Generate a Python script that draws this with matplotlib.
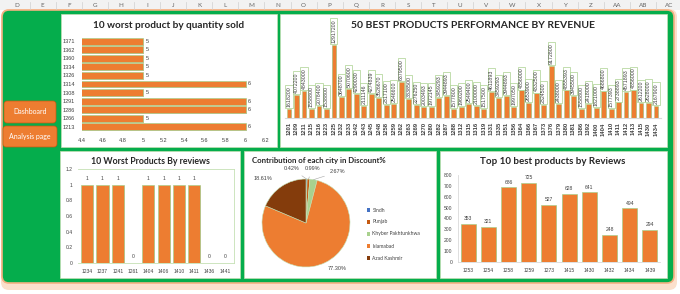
import numpy as np
import matplotlib.pyplot as plt
from matplotlib import patheffects as pe
from matplotlib.patches import FancyBboxPatch, Rectangle, Patch

plt.rcParams['font.family'] = ['Lato', 'DejaVu Sans']

W, H = 680, 294
ORANGE = '#ED7D31'
GREEN = '#05AD4C'
EDGE = '#A9D18E'
TXT = '#404040'
TICKFONT = ['Liberation Sans', 'DejaVu Sans']

# ---- data ----
col_letters = ['D', 'E', 'F', 'G', 'H', 'I', 'J', 'K', 'L', 'M', 'N', 'O', 'P',
               'Q', 'R', 'S', 'T', 'U', 'V', 'W', 'X', 'Y', 'Z', 'AA', 'AB', 'AC']

qty_products = ['1371', '1362', '1360', '1334', '1326', '1314', '1308', '1291', '1286', '1266', '1213']
qty_sold = [5, 5, 5, 5, 5, 6, 5, 6, 6, 5, 6]

rev_products = ['1201', '1209', '1211', '1215', '1216', '1223', '1225', '1232', '1233', '1242',
                '1243', '1245', '1248', '1258', '1259', '1262', '1263', '1269', '1270', '1280',
                '1282', '1287', '1288', '1312', '1315', '1316', '1319', '1331', '1335', '1351',
                '1356', '1364', '1366', '1367', '1373', '1376', '1379', '1380', '1381', '1386',
                '1392', '1400', '1404', '1410', '1411', '1412', '1413', '1415', '1430', '1434']
revenue = [1618200, 4072200, 4843000, 1558800, 2078400, 1538800, 12917200, 3648700, 5070600, 4290030,
           2111146, 4274839, 3526670, 2317100, 2546600, 6379500, 3338500, 2276250, 2003493, 1972145,
           3459293, 3944893, 1577800, 1960200, 2549400, 2100000, 1517500, 4611893, 3459293, 3944893,
           1997050, 4856000, 2653900, 4332500, 2324500, 9172800, 2438000, 4855393, 3945500, 1558800,
           2418000, 1821000, 4686800, 1577393, 2738893, 4571893, 4856000, 2612200, 2628000, 2167900]

worst_rev_products = ['1234', '1237', '1241', '1261', '1404', '1406', '1410', '1411', '1436', '1441']
worst_reviews = [1, 1, 1, 0, 1, 1, 1, 1, 0, 0]

best_rev_products = ['1253', '1254', '1258', '1259', '1273', '1415', '1430', '1432', '1434', '1439']
best_reviews = [353, 321, 686, 725, 527, 628, 641, 248, 494, 294]

cities = ['Sindh', 'Punjab', 'Khyber Pakhtunkhwa', 'Islamabad', 'Azad Kashmir']
discount_share = [0.42, 0.99, 2.67, 77.30, 18.61]
city_colors = ['#4472C4', '#C55A11', '#A9D18E', '#ED7D31', '#843C0C']

fig = plt.figure(figsize=(W / 100, H / 100), dpi=100)
bg = fig.add_axes([0, 0, 1, 1])
bg.set_xlim(0, W)
bg.set_ylim(H, 0)
bg.axis('off')


def px_axes(x0, y0, x1, y1):
    ax = fig.add_axes([x0 / W, 1 - y1 / H, (x1 - x0) / W, (y1 - y0) / H])
    ax.set_facecolor('none')
    return ax


def title(x, y, s, size, ha='center'):
    fig.text(x / W, 1 - y / H, s, ha=ha, va='center', fontsize=size, weight='bold',
             color='#262626', zorder=10)


shadow = [pe.SimplePatchShadow(offset=(0.7, -0.7), shadow_rgbFace='#7f7f7f', alpha=0.4), pe.Normal()]


def style_bars(bars):
    for b in bars:
        b.set_path_effects(shadow)


def tick_font(ax):
    for lab in ax.get_xticklabels() + ax.get_yticklabels():
        lab.set_family(TICKFONT)


# ---- sheet background ----
bg.add_patch(Rectangle((0, 0), W, 10, fc='#F2F2F2', ec='none'))
for i, c in enumerate(col_letters):
    cx = 16.5 + i * 26.1
    bg.text(cx, 5.5, c, ha='center', va='center', fontsize=4.5, color='#666666')
    bg.plot([cx + 13, cx + 13], [1.5, 9], color='#D0D0D0', lw=0.5)

bg.add_patch(FancyBboxPatch((1, 9), 676, 281, boxstyle='round,pad=0,rounding_size=8',
                            fc='#FBE0CC', ec='none'))
bg.add_patch(FancyBboxPatch((2, 10), 672, 273, boxstyle='round,pad=0,rounding_size=7',
                            fc=GREEN, ec='#F4B183', lw=1.2))

for (x0, y0, x1, y1) in [(61, 14, 277, 147), (280, 14, 667, 147),
                         (60, 151, 240, 278), (244, 151, 436, 278), (440, 151, 667, 278)]:
    bg.add_patch(Rectangle((x0, y0), x1 - x0, y1 - y0, fc='white', ec='#C5E0B4', lw=0.5))

# buttons
for (x0, y0, w, h, label) in [(4, 101, 52, 22, 'Dashboard'), (3, 126, 54, 21, 'Analysis page')]:
    bg.add_patch(FancyBboxPatch((x0, y0), w, h, boxstyle='round,pad=0,rounding_size=3',
                                fc=ORANGE, ec='#C55A11', lw=0.5))
    bg.text(x0 + w / 2, y0 + h / 2, label, ha='center', va='center', fontsize=5, color='white')

# ---- 10 worst product by quantity sold ----
ax1 = px_axes(82, 37, 266, 131)
y = np.arange(len(qty_products))
bars = ax1.barh(y, qty_sold, height=0.8, color=ORANGE, edgecolor=EDGE, lw=0.5)
style_bars(bars)
ax1.set_xlim(4.4, 6.2)
ax1.set_ylim(len(qty_products) - 0.5, -0.5)
ax1.set_yticks(y)
ax1.set_yticklabels(qty_products)
xt = np.round(np.arange(4.4, 6.21, 0.2), 1)
ax1.set_xticks(xt)
ax1.set_xticklabels([f'{v:g}' for v in xt])
ax1.tick_params(length=0, labelsize=4, colors=TXT, pad=5)
tick_font(ax1)
for s in ax1.spines.values():
    s.set_visible(False)
for i, v in enumerate(qty_sold):
    ax1.text(v + 0.02, i, str(v), va='center', fontsize=4, color=TXT, family=TICKFONT)
title(169, 25, '10 worst product by quantity sold', 7.2)

# ---- 50 best products by revenue ----
ax2 = px_axes(284.5, 16, 660.5, 118)
x = np.arange(len(rev_products))
bars = ax2.bar(x, revenue, width=0.65, color=ORANGE, edgecolor=EDGE, lw=0.4)
style_bars(bars)
ax2.set_xlim(-0.6, len(rev_products) - 0.4)
ax2.set_ylim(0, 18e6)
ax2.set_xticks(x)
ax2.set_xticklabels(rev_products, rotation=90, weight='bold')
ax2.set_yticks([])
ax2.tick_params(length=0, labelsize=4.2, colors=TXT, pad=3)
tick_font(ax2)
for k, s in ax2.spines.items():
    s.set_visible(k == 'bottom')
ax2.spines['bottom'].set_color('#D9D9D9')
for i, v in enumerate(revenue):
    ax2.text(i, v + 0.35e6, str(v), rotation=90, ha='center', va='bottom', fontsize=3.8,
             color=TXT, family=TICKFONT,
             bbox=dict(boxstyle='square,pad=0.2', fc='white', ec=EDGE, lw=0.5))
title(473, 25, '50 BEST PRODUCTS PERFORMANCE BY REVENUE', 7.5)

# ---- 10 worst products by reviews ----
ax3 = px_axes(78, 169, 234, 263)
x = np.arange(len(worst_rev_products))
bars = ax3.bar(x, worst_reviews, width=0.8, color=ORANGE, edgecolor=EDGE, lw=0.5)
style_bars(bars)
ax3.set_xlim(-0.6, len(x) - 0.4)
ax3.set_ylim(0, 1.2)
yt = np.round(np.arange(0, 1.21, 0.2), 1)
ax3.set_yticks(yt)
ax3.set_yticklabels([f'{v:g}' for v in yt])
ax3.set_xticks(x)
ax3.set_xticklabels(worst_rev_products)
ax3.tick_params(length=0, labelsize=3.6, colors=TXT, pad=4)
tick_font(ax3)
ax3.spines['left'].set_visible(False)
for k in ['top', 'right', 'bottom']:
    ax3.spines[k].set_color('#C5E0B4')
    ax3.spines[k].set_linewidth(0.6)
for i, v in enumerate(worst_reviews):
    ax3.text(i, v + 0.05, str(v), ha='center', va='bottom', fontsize=3.6, color=TXT, family=TICKFONT)
title(150, 162, '10 Worst Products By reviews', 6.3)

# ---- pie ----
ax4 = px_axes(262, 179, 350, 267)
wedges, _ = ax4.pie(discount_share, colors=city_colors, startangle=90, counterclock=False,
                    wedgeprops=dict(edgecolor='#C5E0B4', lw=0.4))
ax4.set_xlim(-1, 1)
ax4.set_ylim(-1, 1)
label_pos = [(-0.32, 1.23), (0.14, 1.23), (0.72, 1.16), (0.72, -1.03), (-0.98, 1.02)]
for w, v, (tx, ty) in zip(wedges, discount_share, label_pos):
    mid = np.deg2rad((w.theta1 + w.theta2) / 2)
    if v < 5:
        ax4.annotate(f'{v:.2f}%', xy=(np.cos(mid), np.sin(mid)), xytext=(tx, ty),
                     ha='center', va='center', fontsize=4, color=TXT, annotation_clip=False,
                     family=TICKFONT,
                     arrowprops=dict(arrowstyle='-', color='#A6A6A6', lw=0.4, shrinkA=2, shrinkB=0))
    else:
        ax4.text(tx, ty, f'{v:.2f}%', ha='center', va='center', fontsize=4, color=TXT,
                 clip_on=False, family=TICKFONT)
title(252, 160, 'Contribution of each city in Discount%', 5.6, ha='left')
handles = [Patch(fc=c, ec='none') for c in city_colors]
fig.legend(handles, cities, loc='upper left', bbox_to_anchor=(362 / W, 1 - 203 / H), frameon=False,
           fontsize=3.6, handlelength=0.7, handleheight=0.7, labelspacing=1.4, handletextpad=0.5,
           labelcolor=TXT)

# ---- top 10 best products by reviews ----
ax5 = px_axes(458, 175, 660, 262)
x = np.arange(len(best_rev_products))
bars = ax5.bar(x, best_reviews, width=0.75, color=ORANGE, edgecolor=EDGE, lw=0.5)
style_bars(bars)
ax5.set_xlim(-0.5, len(x) - 0.5)
ax5.set_ylim(0, 800)
ax5.set_yticks(np.arange(0, 801, 100))
ax5.set_xticks(x)
ax5.set_xticklabels(best_rev_products)
ax5.tick_params(length=0, labelsize=3.6, colors=TXT, pad=4)
tick_font(ax5)
for k, s in ax5.spines.items():
    s.set_visible(k in ('left', 'bottom'))
    s.set_color('#D9D9D9')
    s.set_linewidth(0.6)
for i, v in enumerate(best_reviews):
    ax5.text(i, v + 25, str(v), ha='center', va='bottom', fontsize=3.6, color=TXT, family=TICKFONT)
title(553, 162, 'Top 10 best products by Reviews', 7)

fig.savefig('out.png', dpi=100)
